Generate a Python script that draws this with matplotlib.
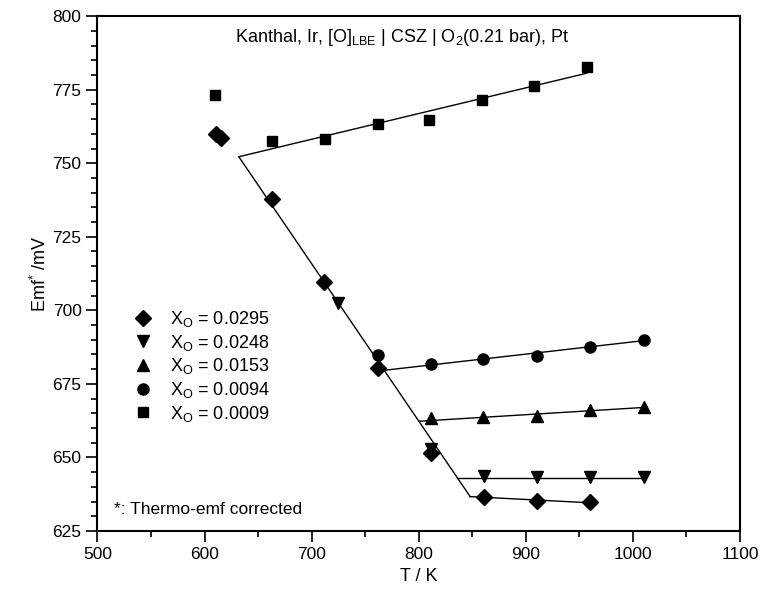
import matplotlib
matplotlib.use("Agg")
import matplotlib.pyplot as plt
from matplotlib.ticker import MultipleLocator

plt.rcParams['font.family'] = ['Liberation Sans', 'DejaVu Sans']
plt.rcParams['mathtext.fontset'] = 'custom'
plt.rcParams['mathtext.rm'] = 'Liberation Sans'
plt.rcParams['mathtext.it'] = 'Liberation Sans:italic'
plt.rcParams['mathtext.bf'] = 'Liberation Sans:bold'

# measured points, X_O = oxygen fraction in LBE
labels = ['0.0295', '0.0248', '0.0153', '0.0094', '0.0009']
markers = ['D', 'v', '^', 'o', 's']
sizes = [8, 8.5, 8.5, 8, 7]

T_diamond = [611, 615.5, 663, 711.5, 762, 811, 861, 910.5, 960]
E_diamond = [760.0, 758.5, 738.0, 709.5, 680.5, 651.5, 636.7, 635.3, 634.8]

T_down = [724.5, 811, 861, 910.5, 960, 1010]
E_down = [702.4, 653.0, 643.7, 643.3, 643.5, 643.3]

T_up = [811, 860, 910, 960, 1010]
E_up = [663.3, 663.8, 664.2, 666.0, 667.0]

T_circle = [762, 811, 860, 910, 960, 1010]
E_circle = [684.8, 681.6, 683.3, 684.5, 687.4, 689.8]

T_square = [610, 663, 712, 761.5, 810, 859.5, 908, 957]
E_square = [773.2, 757.5, 758.2, 763.2, 764.7, 771.5, 776.2, 782.6]

series_T = [T_diamond, T_down, T_up, T_circle, T_square]
series_E = [E_diamond, E_down, E_up, E_circle, E_square]

# fitted lines (end points)
fit_T = [[632, 848], [632, 957], [767, 1010], [800, 1010], [836, 1010], [848, 960]]
fit_E = [[752.2, 636.7], [752.2, 780.6], [679.6, 689.7], [662.3, 667.0], [643.0, 643.0], [636.7, 634.6]]

fig = plt.figure(figsize=(7.64, 5.96), dpi=100)
ax = fig.add_axes([0.1276, 0.109, 0.8410, 0.864])

for t, e in zip(fit_T, fit_E):
    ax.plot(t, e, color='black', lw=1.0, zorder=2)

for t, e, m, s, lab in zip(series_T, series_E, markers, sizes, labels):
    ax.plot(t, e, linestyle='none', marker=m, ms=s, color='black',
            label=r'X$_{\mathrm{O}}$ = ' + lab, zorder=3)

ax.set_xlim(500, 1100)
ax.set_ylim(625, 800)
ax.xaxis.set_major_locator(MultipleLocator(100))
ax.xaxis.set_minor_locator(MultipleLocator(50))
ax.yaxis.set_major_locator(MultipleLocator(25))
ax.yaxis.set_minor_locator(MultipleLocator(5))
ax.tick_params(which='major', direction='out', length=8, width=1.2, labelsize=12.5)
ax.tick_params(which='minor', direction='out', length=4.5, width=1.2)
for sp in ax.spines.values():
    sp.set_linewidth(1.5)

ax.set_xlabel('T / K', fontsize=13)
ax.set_ylabel(r'Emf$^{*}$ /mV', fontsize=13, labelpad=2)

ax.text(0.475, 0.958, r'Kanthal, Ir, [O]$_{\mathrm{LBE}}$ | CSZ | O$_{2}$(0.21 bar), Pt',
        transform=ax.transAxes, ha='center', va='center', fontsize=13)
ax.text(0.025, 0.042, '*: Thermo-emf corrected', transform=ax.transAxes,
        ha='left', va='center', fontsize=12.5)

ax.legend(loc='upper left', bbox_to_anchor=(0.043, 0.445), frameon=False,
          numpoints=1, fontsize=13, handlelength=1.2, handletextpad=0.9,
          labelspacing=0.2, borderaxespad=0)

fig.savefig('out.png', dpi=100)
